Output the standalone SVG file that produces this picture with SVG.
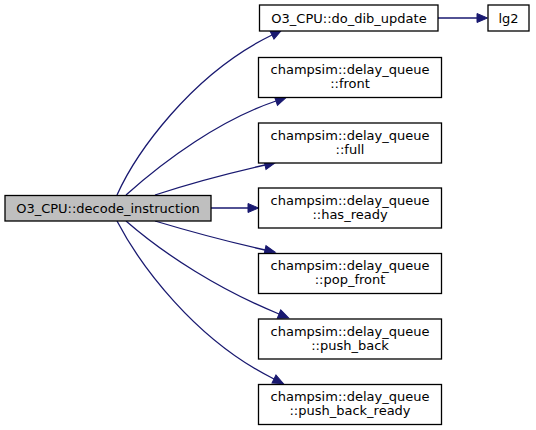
<svg xmlns="http://www.w3.org/2000/svg" width="536" height="430" viewBox="0 0 536 430">
<style>
.n rect{fill:#ffffff;stroke:#000000;stroke-width:1.3}
.n.m rect{fill:#bfbfbf}
.n text{font-family:"DejaVu Sans",sans-serif;font-size:13px;text-anchor:middle;fill:#000000}
.e path{fill:none;stroke:#191970;stroke-width:1.3;marker-end:url(#ah)}
</style>
<defs>
<marker id="ah" markerUnits="userSpaceOnUse" markerWidth="11" markerHeight="9" refX="0" refY="4.5" orient="auto" overflow="visible">
<path d="M0,0 L10.5,4.5 L0,9 Z" fill="#191970" stroke="#191970" stroke-width="1"/>
</marker>
</defs>
<rect width="536" height="430" fill="#ffffff"/>
<g id="edges" class="e">
<path d="M117,195 C135,155 190,75 272,35"/>
<path d="M126,195 C165,160 220,120 276,101"/>
<path d="M155,195 C185,185 225,174 265,165"/>
<path d="M211,208 L248,208"/>
<path d="M155,221 C185,230 225,241 265,250"/>
<path d="M126,221 C165,255 220,290 279,314"/>
<path d="M117,221 C140,265 195,340 274,379"/>
<path d="M438,18 L477,18"/>
</g>
<g id="decode_instruction" class="n m">
<rect x="5" y="195.5" width="206" height="25.5"/>
<text x="108" y="212.5">O3_CPU::decode_instruction</text>
</g>
<g id="do_dib_update" class="n">
<rect x="259.5" y="5" width="178.5" height="26"/>
<text x="349" y="22.5">O3_CPU::do_dib_update</text>
</g>
<g id="lg2" class="n">
<rect x="488" y="5" width="41" height="26"/>
<text x="508.5" y="22.5">lg2</text>
</g>
<g id="front" class="n">
<rect x="258.5" y="57.5" width="183" height="40"/>
<text x="350" y="74">champsim::delay_queue</text>
<text x="350" y="88">::front</text>
</g>
<g id="full" class="n">
<rect x="258.5" y="123" width="183" height="40"/>
<text x="350" y="139.5">champsim::delay_queue</text>
<text x="350" y="153.5">::full</text>
</g>
<g id="has_ready" class="n">
<rect x="258.5" y="188" width="183" height="40"/>
<text x="350" y="204.5">champsim::delay_queue</text>
<text x="350" y="218.5">::has_ready</text>
</g>
<g id="pop_front" class="n">
<rect x="258.5" y="253.5" width="183" height="40"/>
<text x="350" y="270">champsim::delay_queue</text>
<text x="350" y="284">::pop_front</text>
</g>
<g id="push_back" class="n">
<rect x="258.5" y="319" width="183" height="40"/>
<text x="350" y="335.5">champsim::delay_queue</text>
<text x="350" y="349.5">::push_back</text>
</g>
<g id="push_back_ready" class="n">
<rect x="258.5" y="384.5" width="183" height="40"/>
<text x="350" y="401">champsim::delay_queue</text>
<text x="350" y="415">::push_back_ready</text>
</g>
</svg>
